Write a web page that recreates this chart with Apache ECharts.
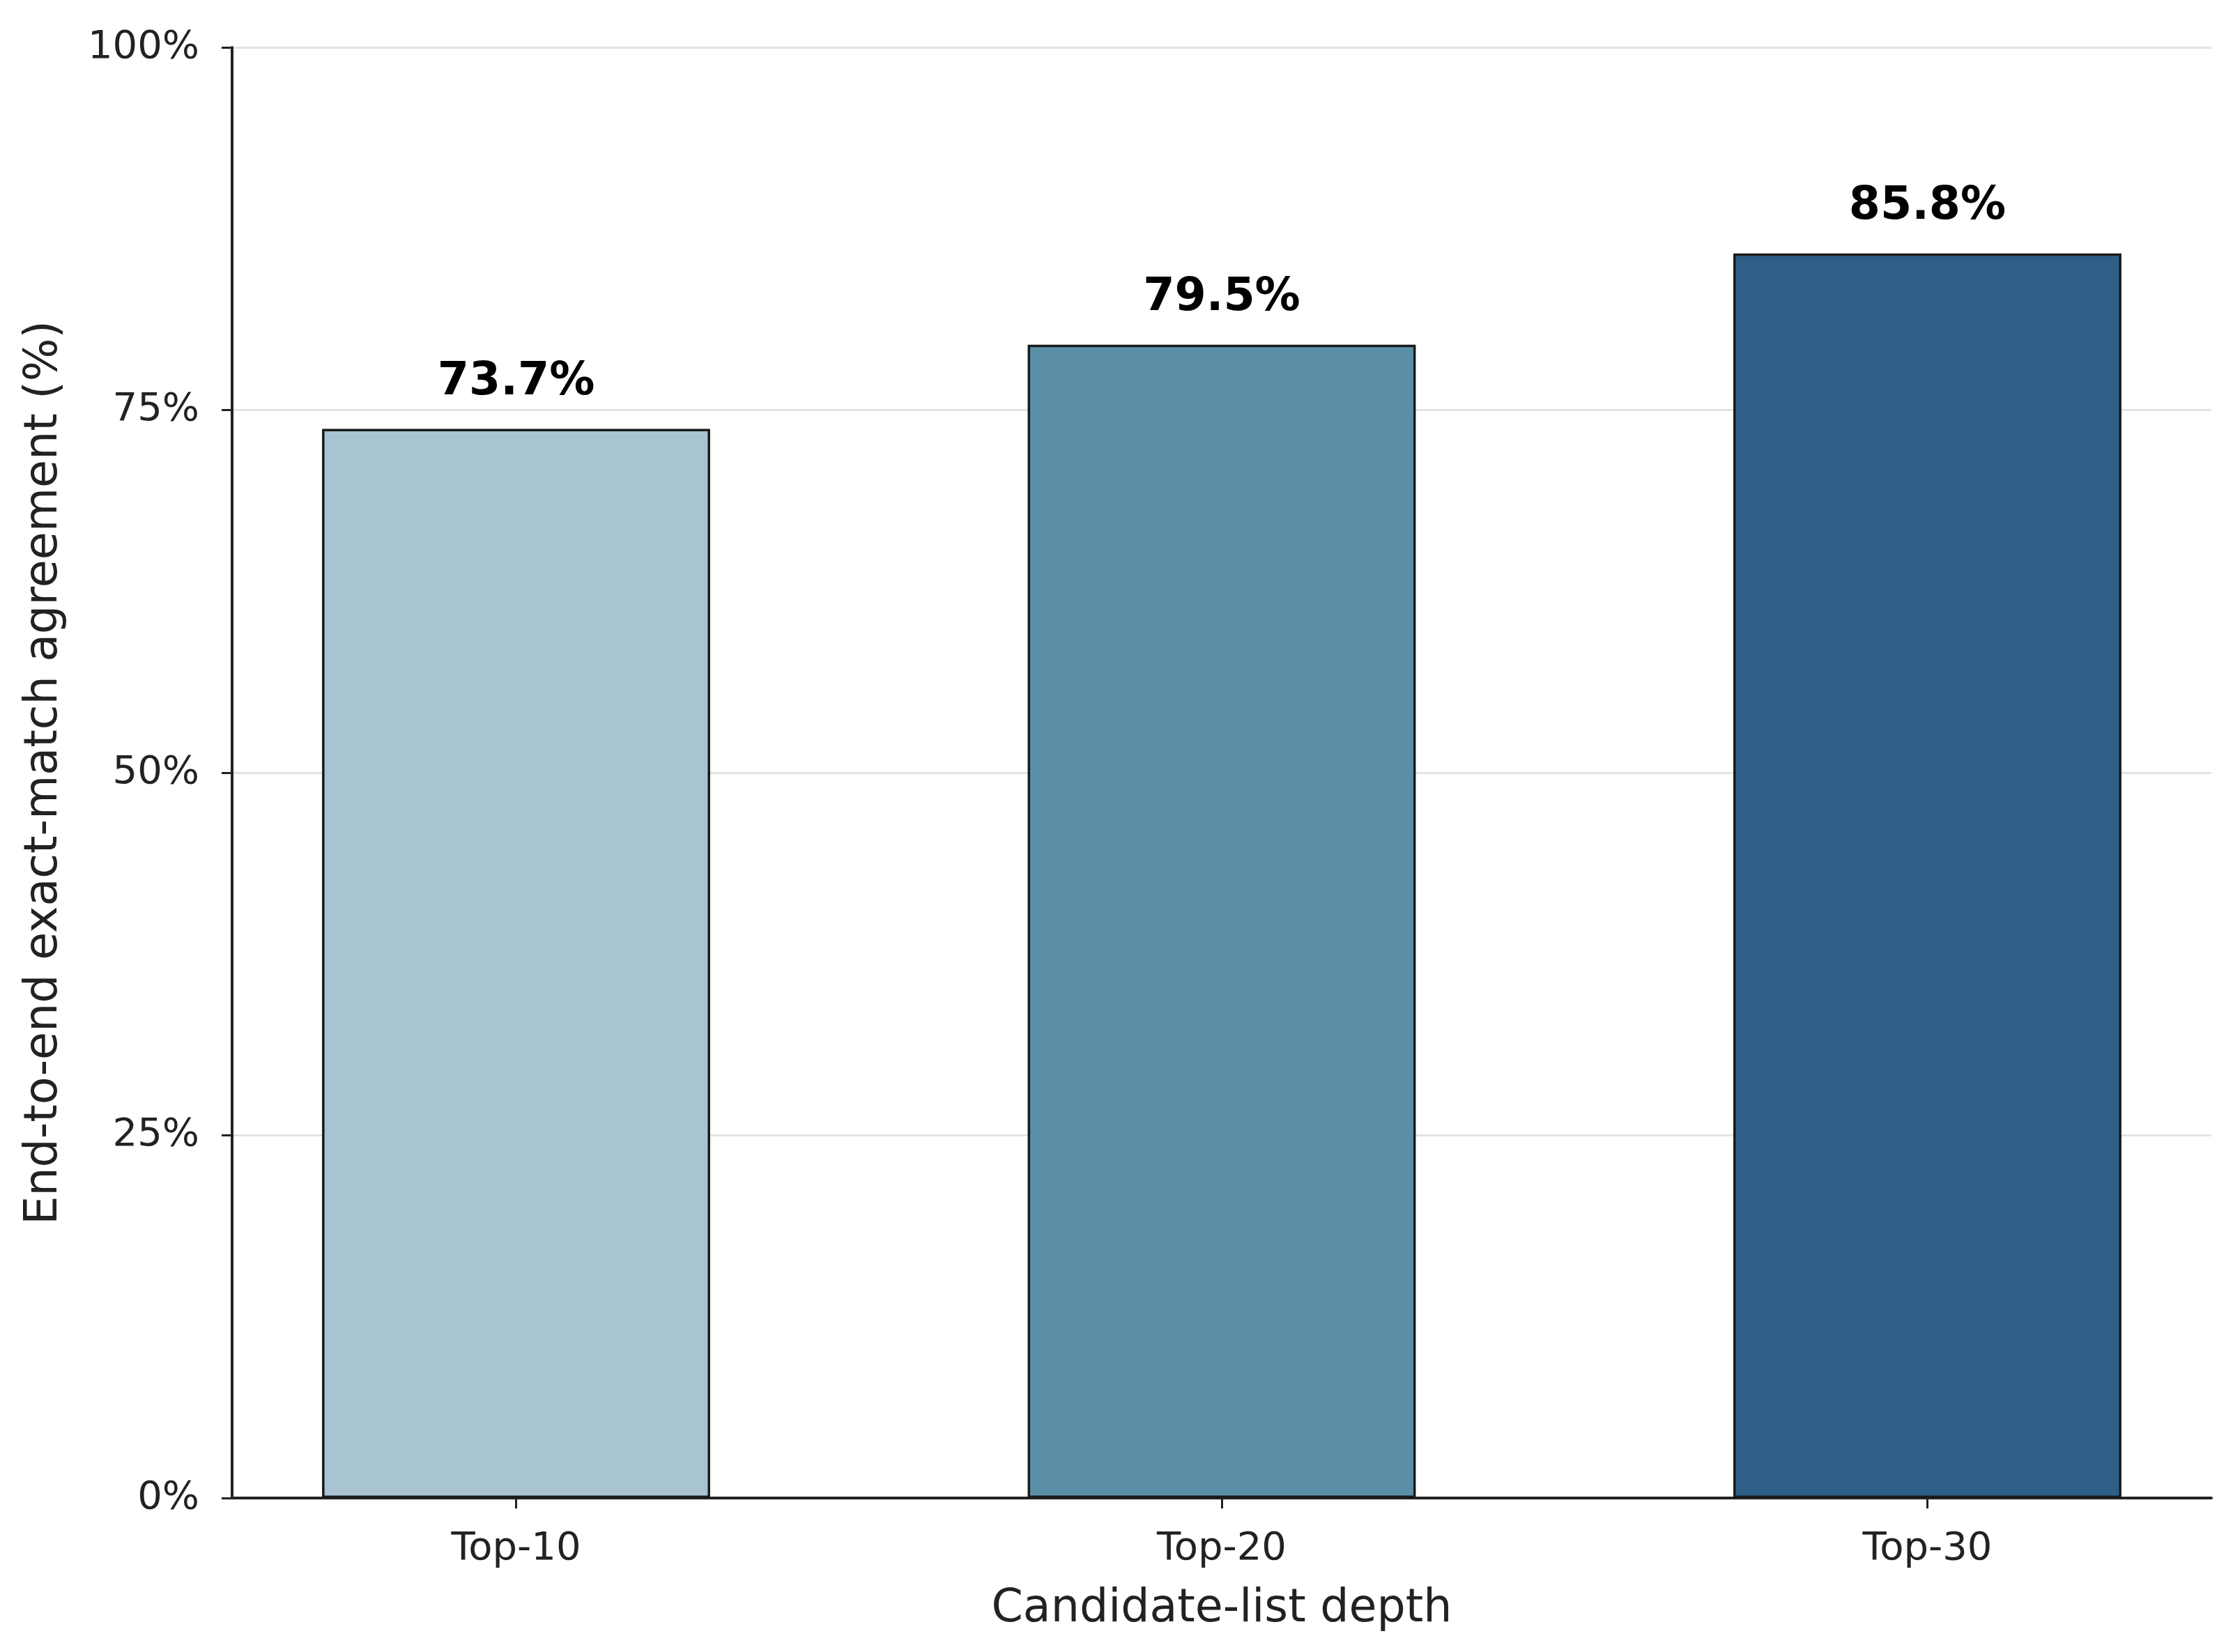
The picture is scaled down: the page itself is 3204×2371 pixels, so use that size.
<!DOCTYPE html>
<html lang="en">
<head>
    <meta charset="UTF-8">
    <title>Candidate-list depth</title>
    <script src="https://cdn.jsdelivr.net/npm/echarts@6/dist/echarts.min.js"></script>
    <style>
        html, body { margin: 0; padding: 0; background: #fff; }
        #main { width: 3204px; height: 2371px; }
    </style>
</head>
<body>
<div id="main"></div>
<script type="text/javascript">
    // data
    var categories = ['Top-10', 'Top-20', 'Top-30'];
    var agreement = [73.7, 79.5, 85.8];
    var yTicks = [0, 25, 50, 75, 100];

    var barColors = ['#a8c4d3', '#5b8fa8', '#2d5f88'];
    var font = 'DejaVu Sans';

    var myChart = echarts.init(document.getElementById('main'));

    var option = {
        backgroundColor: '#ffffff',
        animation: false,
        grid: {
            left: 333,
            right: 31,
            top: 68,
            bottom: 221
        },
        xAxis: {
            type: 'value',
            min: -0.4025,
            max: 2.4025,
            name: 'Candidate-list depth',
            nameLocation: 'middle',
            nameGap: 128,
            nameTextStyle: {fontFamily: font, fontSize: 65, color: '#222'},
            splitLine: {show: false},
            axisLine: {show: true, onZero: false, lineStyle: {color: '#222', width: 4}},
            axisTick: {
                show: true,
                length: 15,
                customValues: [0, 1, 2],
                lineStyle: {color: '#222', width: 3}
            },
            axisLabel: {
                customValues: [0, 1, 2],
                margin: 45,
                fontFamily: font,
                fontSize: 56,
                color: '#222',
                formatter: function (v) {
                    return categories[Math.round(v)];
                }
            }
        },
        yAxis: {
            type: 'value',
            min: yTicks[0],
            max: yTicks[yTicks.length - 1],
            interval: 25,
            name: 'End-to-end exact-match agreement (%)',
            nameLocation: 'middle',
            nameGap: 236,
            nameTextStyle: {fontFamily: font, fontSize: 65, color: '#222'},
            axisLine: {show: true, onZero: false, lineStyle: {color: '#222', width: 4}},
            axisTick: {show: true, length: 15, lineStyle: {color: '#222', width: 3}},
            axisLabel: {
                margin: 47,
                fontFamily: font,
                fontSize: 56,
                color: '#222',
                formatter: '{value}%'
            },
            splitLine: {show: true, lineStyle: {color: '#e3e3e3', width: 3}}
        },
        series: [{
            type: 'bar',
            barWidth: '55%',
            data: agreement.map(function (v, i) {
                return {
                    value: [i, v],
                    itemStyle: {color: barColors[i]}
                };
            }),
            itemStyle: {borderColor: '#1a1a1a', borderWidth: 3.5},
            label: {
                show: true,
                position: 'top',
                distance: 34,
                fontFamily: font,
                fontWeight: 'bold',
                fontSize: 65,
                color: '#000',
                formatter: function (p) {
                    return p.value[1].toFixed(1) + '%';
                }
            }
        }]
    };

    myChart.setOption(option);
</script>
</body>
</html>
